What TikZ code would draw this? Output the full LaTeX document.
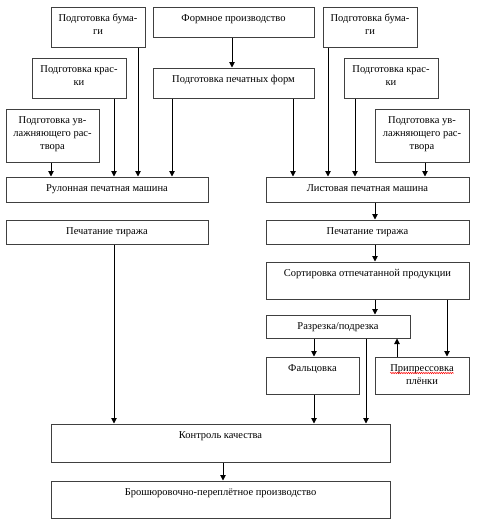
\documentclass[tikz,border=0pt]{standalone}
\usepackage{fontspec}
\setmainfont{Liberation Serif}
\usetikzlibrary{arrows.meta,fit,decorations.pathmorphing}
\tikzset{
  box/.style={draw=black!75, line width=1pt, inner sep=0pt, fill=none},
  txt/.style={inner sep=0pt, align=center, font=\fontsize{10.5}{13}\selectfont},
  arr/.style={draw=black, line width=1pt, -{Triangle[length=5.5pt,width=5.5pt]}},
}
\newcommand\bx[6]{%
  \coordinate (#1-a) at (#2,#3);
  \coordinate (#1-b) at (#4,#5);
  \node[box, fit=(#1-a)(#1-b)] (#1) {};
  \node[txt, anchor=north] (#1-t) at ([yshift=-7.5pt]#1.north) {#6};
}
\begin{document}
\begin{tikzpicture}[x=1pt,y=-1pt]
\useasboundingbox (0,0) rectangle (477,523);
\bx{pb1}{51}{7}{145}{47}{Подготовка бума-\\ги}
\bx{fp}{153}{7}{314}{37}{Формное производство}
\bx{pb2}{323}{7}{417}{47}{Подготовка бума-\\ги}
\bx{pk1}{32}{58}{126}{98}{Подготовка крас-\\ки}
\bx{ppf}{153}{68}{314}{98}{Подготовка печатных форм}
\bx{pk2}{344}{58}{438}{98}{Подготовка крас-\\ки}
\bx{ur1}{6}{109}{99}{162}{Подготовка ув-\\лажняющего рас-\\твора}
\bx{ur2}{375}{109}{469}{162}{Подготовка ув-\\лажняющего рас-\\твора}
\bx{rpm}{6}{177}{208}{202}{Рулонная печатная машина}
\bx{lpm}{266}{177}{469}{202}{Листовая печатная машина}
\bx{pt1}{6}{220}{208}{244}{Печатание тиража}
\bx{pt2}{266}{220}{469}{244}{Печатание тиража}
\bx{sort}{266}{262}{469}{299}{Сортировка отпечатанной продукции}
\bx{razr}{266}{315}{410}{338}{Разрезка/подрезка}
\bx{falc}{266}{357}{359}{394}{Фальцовка}
\bx{prip}{375}{357}{469}{394}{Припрессовка\\плёнки}
\bx{kk}{51}{424}{390}{462}{Контроль качества}
\bx{bpp}{51}{481}{390}{518}{Брошюровочно-переплётное производство}
\draw[red, line width=0.5pt, decorate, decoration={snake, amplitude=0.7pt, segment length=2.2pt}]
  ([yshift=-9pt]prip-t.north west) -- ([yshift=-9pt]prip-t.north east);
% x positions
\foreach \xx in {51,114,138,172,223,232,293,314,328,355,366,375,397,425,447}
  \coordinate (X\xx) at (\xx,0);
% left inputs
\draw[arr] (ur1.south -| X51) -- (rpm.north -| X51);
\draw[arr] (pk1.south -| X114) -- (rpm.north -| X114);
\draw[arr] (pb1.south -| X138) -- (rpm.north -| X138);
\draw[arr] (ppf.south -| X172) -- (rpm.north -| X172);
\draw[arr] (fp.south -| X232) -- (ppf.north -| X232);
% right inputs
\draw[arr] (ppf.south -| X293) -- (lpm.north -| X293);
\draw[arr] (pb2.south -| X328) -- (lpm.north -| X328);
\draw[arr] (pk2.south -| X355) -- (lpm.north -| X355);
\draw[arr] (ur2.south -| X425) -- (lpm.north -| X425);
% right chain
\draw[arr] (lpm.south -| X375) -- (pt2.north -| X375);
\draw[arr] (pt2.south -| X375) -- (sort.north -| X375);
\draw[arr] (sort.south -| X375) -- (razr.north -| X375);
\draw[arr] (sort.south -| X447) -- (prip.north -| X447);
\draw[arr] (razr.south -| X314) -- (falc.north -| X314);
\draw[arr] (prip.north -| X397) -- (razr.south -| X397);
\draw[arr] (razr.south -| X366) -- (kk.north -| X366);
\draw[arr] (falc.south -| X314) -- (kk.north -| X314);
% left chain
\draw[arr] (pt1.south -| X114) -- (kk.north -| X114);
\draw[arr] (kk.south -| X223) -- (bpp.north -| X223);
\end{tikzpicture}
\end{document}
